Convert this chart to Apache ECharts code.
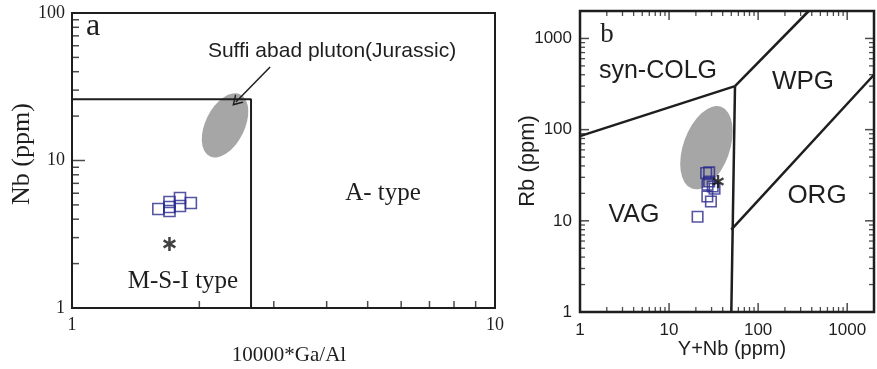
<!DOCTYPE html>
<html>
<head>
<meta charset="utf-8">
<script src="https://cdn.jsdelivr.net/npm/echarts@6.0.0/dist/echarts.min.js"></script>
<style>
html, body { margin: 0; padding: 0; background: #fff; }
#chart { width: 877px; height: 369px; }
</style>
</head>
<body>
<div id="chart"></div>
<script>
// --- panel a : Nb vs 10000*Ga/Al ---
var msiBoundary = [[1, 26], [2.65, 26], [2.65, 1]];
var samplesA = [[1.60, 4.69], [1.70, 5.23], [1.70, 4.84], [1.70, 4.55], [1.80, 5.57], [1.80, 4.92], [1.91, 5.15]];
var starA = [[1.70, 2.72]];
var ellipseA = [[2.30, 17.3], [2.50, 28.0], [2.53, 15.1]]; // centre, end of long axis, end of short axis
var arrowA = [[2.94, 43.0], [2.44, 24.9]];
var ticksAx = [2, 3, 4, 5, 6, 7, 8, 9];
var ticksAy = [2, 3, 4, 5, 6, 7, 8, 9, 20, 30, 40, 50, 60, 70, 80, 90];
var majorAy = [10];

// --- panel b : Rb vs Y+Nb ---
var colgVag = [[1, 85], [55, 300]];
var colgWpg = [[55, 300], [370, 2000]];
var vagWpg = [[55, 300], [50, 1]];
var orgWpg = [[50, 8], [2000, 400]];
var samplesB = [[26.1, 33.4], [28.2, 34], [27.0, 24.9], [30.9, 23.8], [26.9, 18.5], [29.5, 16.3], [20.9, 11.1], [32.4, 22.5], [28.2, 27]];
var starB = [[35.5, 27]];
var ellipseB = [[26.3, 63.4], [38.4, 178], [45.4, 49.9]];
var ticksB = [2, 3, 4, 5, 6, 7, 8, 9, 20, 30, 40, 50, 60, 70, 80, 90, 200, 300, 400, 500, 600, 700, 800, 900];
var majorB = [10, 100, 1000];

var ink = '#1e1e1e';
var navy = '#2b2b8c';
// three filled bars -> bold asterisk
var asterisk = 'path://M-1.3,-7L1.3,-7L1.3,7L-1.3,7Z' +
  'M5.41,-4.63L6.71,-2.37L-5.41,4.63L-6.71,2.37Z' +
  'M6.71,2.37L5.41,4.63L-6.71,-2.37L-5.41,-4.63Z';

function tickSeries(gi, pts, size, offset) {
  return {
    type: 'scatter', xAxisIndex: gi, yAxisIndex: gi, data: pts,
    symbol: 'rect', symbolSize: size, symbolOffset: offset,
    itemStyle: { color: ink }, silent: true, clip: false, z: 5
  };
}

function lineSeries(gi, pts, w) {
  return {
    type: 'line', xAxisIndex: gi, yAxisIndex: gi, data: pts,
    symbol: 'none', silent: true, z: 4,
    lineStyle: { color: ink, width: w }
  };
}

function ellipseSeries(gi, pts) {
  return {
    type: 'custom', xAxisIndex: gi, yAxisIndex: gi, data: [pts[0]], silent: true, z: 1,
    renderItem: function (params, api) {
      var c = api.coord(pts[0]), a = api.coord(pts[1]), b = api.coord(pts[2]);
      var ra = Math.hypot(a[0] - c[0], a[1] - c[1]);
      var rb = Math.hypot(b[0] - c[0], b[1] - c[1]);
      return {
        type: 'circle', x: c[0], y: c[1],
        rotation: Math.atan2(-(a[1] - c[1]), a[0] - c[0]),
        scaleY: rb / ra,
        shape: { cx: 0, cy: 0, r: ra },
        style: { fill: '#a6a6a6' }
      };
    }
  };
}

function squares(gi, pts, size) {
  return {
    type: 'scatter', xAxisIndex: gi, yAxisIndex: gi, data: pts,
    symbol: 'rect', symbolSize: size, silent: true, z: 3,
    itemStyle: { color: 'rgba(0,0,0,0)', borderColor: navy, borderWidth: 1.6 }
  };
}

function star(gi, pts, size) {
  return {
    type: 'scatter', xAxisIndex: gi, yAxisIndex: gi, data: pts,
    symbol: asterisk, symbolSize: size, silent: true, z: 3,
    itemStyle: { color: '#111' }
  };
}

function decadeLabel(v) {
  var l = Math.log10(v);
  return Math.abs(l - Math.round(l)) < 1e-6 ? String(Math.round(v)) : '';
}

function txt(s, x, y, font, rot) {
  return {
    type: 'text', x: x, y: y, rotation: rot || 0, silent: true,
    style: { text: s, x: 0, y: 0, font: font, fill: ink, align: 'center', verticalAlign: 'middle' }
  };
}

var serif = 'Liberation Serif';
var sans = 'Liberation Sans';

var chart = echarts.init(document.getElementById('chart'));
var option = {
  animation: false,
  backgroundColor: '#fff',
  grid: [
    { left: 72, top: 13, width: 423, height: 295, show: true, borderColor: ink, borderWidth: 2, backgroundColor: 'transparent' },
    { left: 580, top: 11, width: 296, height: 301, show: true, borderColor: ink, borderWidth: 2.5, backgroundColor: 'transparent' }
  ],
  xAxis: [
    {
      type: 'log', gridIndex: 0, min: 1, max: 10, logBase: 10,
      axisLine: { show: false }, axisTick: { show: false }, splitLine: { show: false },
      axisLabel: { fontFamily: serif, fontSize: 18, color: ink, margin: 8, formatter: decadeLabel }
    },
    {
      type: 'log', gridIndex: 1, min: 1, max: 2000, logBase: 10,
      axisLine: { show: false }, axisTick: { show: false }, splitLine: { show: false },
      axisLabel: { fontFamily: sans, fontSize: 17, color: ink, margin: 10, formatter: decadeLabel }
    }
  ],
  yAxis: [
    {
      type: 'log', gridIndex: 0, min: 1, max: 100, logBase: 10,
      axisLine: { show: false }, axisTick: { show: false }, splitLine: { show: false },
      axisLabel: { fontFamily: serif, fontSize: 18, color: ink, margin: 7, formatter: decadeLabel }
    },
    {
      type: 'log', gridIndex: 1, min: 1, max: 2000, logBase: 10,
      axisLine: { show: false }, axisTick: { show: false }, splitLine: { show: false },
      axisLabel: { fontFamily: sans, fontSize: 17, color: ink, margin: 8, formatter: decadeLabel }
    }
  ],
  series: [
    // panel a
    ellipseSeries(0, ellipseA),
    Object.assign(lineSeries(0, msiBoundary, 2), {
      markLine: {
        silent: true,
        symbol: ['none', 'path://M0,0L6,12L4.4,12L0,3.4L-4.4,12L-6,12Z'],
        symbolSize: [12, 10],
        lineStyle: { color: ink, width: 1.5, type: 'solid' },
        label: { show: false },
        data: [[{ coord: arrowA[0] }, { coord: arrowA[1] }]]
      }
    }),
    squares(0, samplesA, 11),
    star(0, starA, [13, 14]),
    tickSeries(0, ticksAx.map(function (v) { return [v, 1]; }), [1.5, 7], [0, -3.5]),
    tickSeries(0, ticksAy.map(function (v) { return [1, v]; }), [7, 1.5], [3.5, 0]),
    tickSeries(0, majorAy.map(function (v) { return [1, v]; }), [13, 1.5], [6.5, 0]),

    // panel b
    ellipseSeries(1, ellipseB),
    lineSeries(1, colgVag, 2.5),
    lineSeries(1, colgWpg, 2.5),
    lineSeries(1, vagWpg, 2.5),
    lineSeries(1, orgWpg, 2.5),
    squares(1, samplesB, 10.5),
    star(1, starB, [12, 13]),
    tickSeries(1, ticksB.map(function (v) { return [v, 1]; }), [1.3, 5], [0, -2.5]),
    tickSeries(1, ticksB.map(function (v) { return [v, 2000]; }), [1.3, 5], [0, 2.5]),
    tickSeries(1, ticksB.map(function (v) { return [1, v]; }), [5, 1.3], [2.5, 0]),
    tickSeries(1, ticksB.map(function (v) { return [2000, v]; }), [5, 1.3], [-2.5, 0]),
    tickSeries(1, majorB.map(function (v) { return [v, 1]; }), [1.5, 9], [0, -4.5]),
    tickSeries(1, majorB.map(function (v) { return [v, 2000]; }), [1.5, 9], [0, 4.5]),
    tickSeries(1, majorB.map(function (v) { return [1, v]; }), [9, 1.5], [4.5, 0]),
    tickSeries(1, majorB.map(function (v) { return [2000, v]; }), [9, 1.5], [-4.5, 0])
  ],
  graphic: [
    txt('a', 93, 27, '32px ' + serif),
    txt('Suffi abad pluton(Jurassic)', 332, 51.5, '21px ' + sans),
    txt('A- type', 383, 193, '25px ' + serif),
    txt('M-S-I type', 183, 281, '25px ' + serif),
    txt('Nb (ppm)', 22, 154, '26px ' + serif, Math.PI / 2),
    txt('10000*Ga/Al', 289, 355, '21px ' + serif),

    txt('b', 607, 35, '27px ' + serif),
    txt('syn-COLG', 658, 71.5, '25px ' + sans),
    txt('WPG', 803, 81.5, '26px ' + sans),
    txt('ORG', 817, 196, '26px ' + sans),
    txt('VAG', 634, 215.5, '25px ' + sans),
    txt('Rb (ppm)', 528, 161, '22px ' + sans, Math.PI / 2),
    txt('Y+Nb (ppm)', 732, 349, '20px ' + sans)
  ]
};
chart.setOption(option);
</script>
</body>
</html>
